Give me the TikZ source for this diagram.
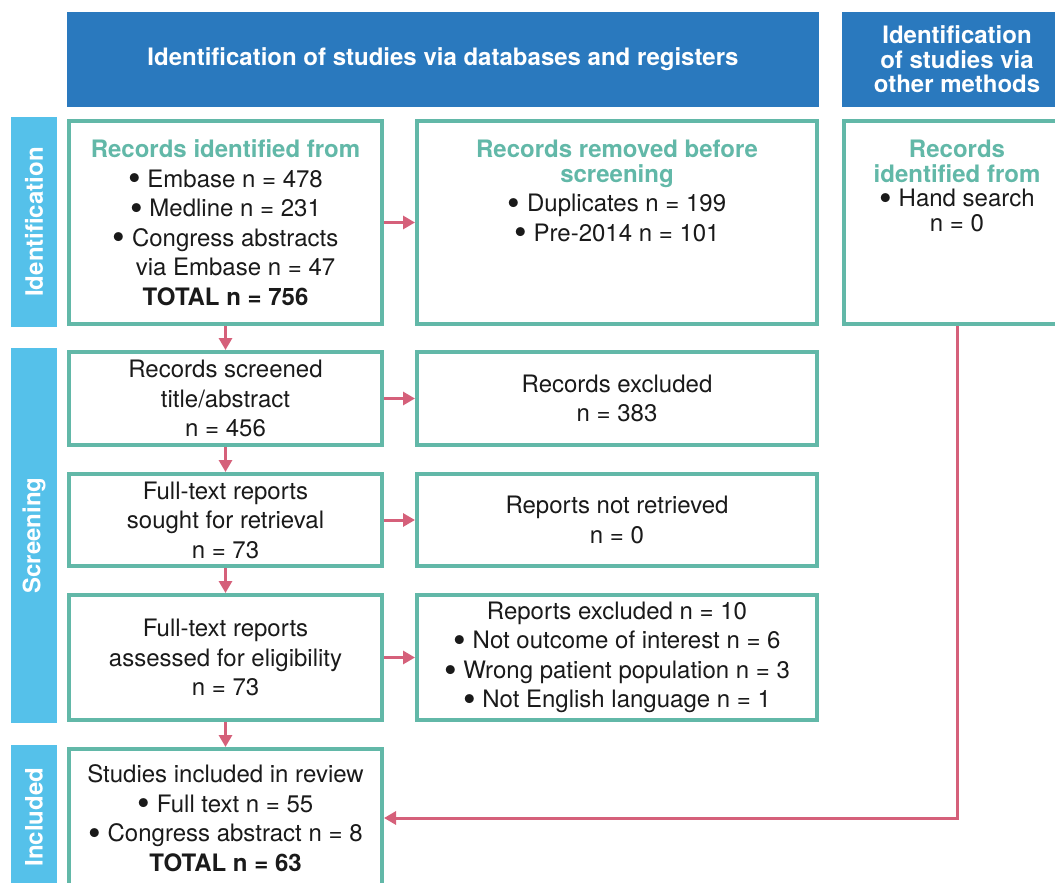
\documentclass[tikz,border=0pt]{standalone}
\usepackage{fontspec}
\setmainfont{TeX Gyre Heros}
\usetikzlibrary{arrows.meta}
\definecolor{navy}{HTML}{2A79BE}
\definecolor{sky}{HTML}{55C1EA}
\definecolor{teal}{HTML}{62B8A8}
\definecolor{rose}{HTML}{D5607A}
\definecolor{ink}{HTML}{1A1A1A}
\begin{document}
\begin{tikzpicture}[x=1pt,y=-1pt,line join=miter,>={Triangle[length=12pt,width=13pt]},
		every node/.style={font=\fontsize{24}{29.5}\selectfont,text=ink},
		box/.style={draw=teal,line width=4pt,fill=white,align=center,inner sep=0pt},
		head/.style={fill=navy,text=white,align=center,inner sep=0pt,font=\fontsize{24}{24.5}\selectfont\bfseries},
		side/.style={fill=sky,text=white,rotate=90,inner sep=0pt,minimum height=46pt,font=\fontsize{24}{24.5}\selectfont\bfseries},
		arr/.style={->,draw=rose,line width=3pt}]
	\def \ca{225.5} \def \cb{617} \def \cc{957}
	\def \tl#1{\textcolor{teal}{\bfseries #1}}
	\def \bul{\smash{\raisebox{-0.3ex}{\scalebox{1.5}{\textbullet}}}\ }
	\useasboundingbox (0,0) rectangle (1055,883);
	\clip (0,0) rectangle (1055,883);
	% headers
	\node[head,minimum width=752pt,minimum height=95pt] (hdb) at (443,59.5) {Identification of studies via databases and registers};
	\node[head,minimum width=230pt,minimum height=95pt] (hot) at (\cc,59.5) {Identification\\of studies via\\other methods};
	% phases
	\node[side,minimum width=210pt] (pid) at (34,222) {Identification};
	\node[side,minimum width=375pt] (psc) at (34,535.5) {Screening};
	\node[side,minimum width=144pt] (pin) at (34,817) {Included};
	% left column
	\node[box,minimum width=313pt,minimum height=203pt] (idn) at (\ca,222.5) {\tl{Records identified from}\\\bul Embase n = 478\\\bul Medline n = 231\\\bul Congress abstracts\\\hspace{20pt}via Embase n = 47\\\textbf{TOTAL n = 756}};
	\node[box,minimum width=313pt,minimum height=93pt] (scr) at (\ca,398.5) {Records screened\\title/abstract\\n = 456};
	\node[box,minimum width=313pt,minimum height=92pt] (sgt) at (\ca,520) {Full-text reports\\sought for retrieval\\n = 73};
	\node[box,minimum width=313pt,minimum height=125pt] (elg) at (\ca,657.5) {Full-text reports\\assessed for eligibility\\n = 73};
	\node[box,minimum width=313pt,minimum height=138pt] (inc) at (\ca,818) {Studies included in review\\\bul Full text n = 55\\\bul Congress abstract n = 8\\\textbf{TOTAL n = 63}};
	% right column
	\node[box,minimum width=400pt,minimum height=203pt] (rem) at (\cb,222.5) {};
	\node[anchor=north,align=center,inner sep=0pt] (remtxt) at ([yshift=-21pt]rem.north) {\tl{Records removed before}\\[-5pt]\tl{screening}\\\bul Duplicates n = 199\\\bul Pre-2014 n = 101};
	\node[box,minimum width=400pt,minimum height=93pt] (exc) at (\cb,398.5) {Records excluded\\n = 383};
	\node[box,minimum width=400pt,minimum height=92pt] (nrt) at (\cb,520) {Reports not retrieved\\n = 0};
	\node[box,minimum width=400pt,minimum height=125pt] (rex) at (\cb,657.5) {Reports excluded n = 10\\\bul Not outcome of interest n = 6\\\bul Wrong patient population n = 3\\\bul Not English language n = 1};
	% other methods
	\node[box,minimum width=226pt,minimum height=203pt] (oth) at (\cc,222.5) {};
	\node[anchor=north,align=center,inner sep=0pt,font=\fontsize{24}{24.5}\selectfont] (othtxt) at ([yshift=-21pt]oth.north) {\tl{Records}\\\tl{identified from}\\\bul Hand search\\n = 0};
	% connectors
	\draw[arr] (idn) -- (scr);
	\draw[arr] (scr) -- (sgt);
	\draw[arr] (sgt) -- (elg);
	\draw[arr] (elg) -- (inc);
	\draw[arr] (idn) -- (rem);
	\draw[arr] (scr) -- (exc);
	\draw[arr] (sgt) -- (nrt);
	\draw[arr] (elg) -- (rex);
	\draw[arr] (oth.south) |- (inc.east);
\end{tikzpicture}
\end{document}
